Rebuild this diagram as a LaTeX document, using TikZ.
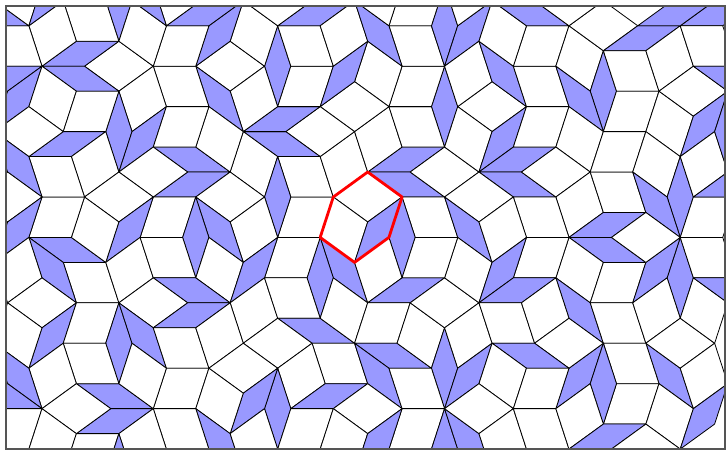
\documentclass[tikz,border=0pt]{standalone}
\usetikzlibrary{calc}
\definecolor{thinblue}{RGB}{153,153,255}
\definecolor{framegray}{RGB}{85,85,85}
\newcommand\Fx{333.3}
\newcommand\Fy{197}
\newcommand\Ledge{42.5}
\newcommand\tileAt[7]{%
  \pgfmathsetmacro\bx{\Fx+\Ledge*(#1+0.309017*(#2+#5)-0.809017*(#3+#4))}%
  \pgfmathsetmacro\by{\Fy+\Ledge*(0.951057*(#5-#2)+0.587785*(#4-#3))}%
  \pgfmathsetmacro\ax{\Ledge*cos(72*#6)}%
  \pgfmathsetmacro\ay{-\Ledge*sin(72*#6)}%
  \pgfmathsetmacro\cx{\Ledge*cos(72*#7)}%
  \pgfmathsetmacro\cy{-\Ledge*sin(72*#7)}%
  \pgfmathtruncatemacro\dd{abs(#6-#7)}%
  \ifnum\dd=2 \def\tcol{thinblue}\else\ifnum\dd=3 \def\tcol{thinblue}\else\def\tcol{white}\fi\fi
  \filldraw[tileline,fill=\tcol] (\bx,\by) -- ++(\ax,\ay) -- ++(\cx,\cy) -- ++(-\ax,-\ay) -- cycle;%
}
\newcommand\latpt[6]{%
  \pgfmathsetmacro\bx{\Fx+\Ledge*(#2+0.309017*(#3+#6)-0.809017*(#4+#5))}%
  \pgfmathsetmacro\by{\Fy+\Ledge*(0.951057*(#6-#3)+0.587785*(#5-#4))}%
  \coordinate (#1) at (\bx,\by);%
}
\begin{document}
\begin{tikzpicture}[x=1pt,y=-1pt,tileline/.style={draw=black,line width=0.8pt,line join=round}]
\useasboundingbox (0,0) rectangle (727,452);
\fill[white] (0,0) rectangle (727,452);
\begin{scope}
\clip (6,6) rectangle (725,449);
\tileAt{0}{0}{-1}{-1}{0}{2}{3}
\tileAt{0}{-1}{-1}{0}{0}{1}{2}
\tileAt{0}{-1}{-1}{-1}{0}{1}{3}
\tileAt{-1}{-1}{0}{0}{0}{0}{1}
\tileAt{-1}{0}{0}{0}{-1}{0}{4}
\tileAt{0}{0}{0}{-1}{-1}{3}{4}
\tileAt{0}{0}{0}{-2}{0}{0}{3}
\tileAt{0}{0}{0}{-2}{-1}{3}{4}
\tileAt{0}{0}{-1}{-1}{0}{0}{2}
\tileAt{0}{0}{-1}{-1}{0}{0}{4}
\tileAt{0}{-1}{-1}{-1}{0}{1}{4}
\tileAt{0}{-1}{-1}{0}{0}{2}{4}
\tileAt{0}{-2}{0}{0}{0}{1}{4}
\tileAt{-1}{-2}{0}{0}{0}{0}{1}
\tileAt{0}{-1}{-1}{-1}{0}{3}{4}
\tileAt{1}{0}{0}{-2}{-1}{1}{4}
\tileAt{0}{0}{0}{-2}{-1}{0}{4}
\tileAt{1}{0}{-1}{-2}{0}{2}{3}
\tileAt{1}{1}{-1}{-3}{0}{2}{3}
\tileAt{1}{0}{-1}{-2}{0}{1}{2}
\tileAt{1}{0}{-1}{-3}{0}{1}{3}
\tileAt{1}{0}{-1}{-3}{0}{0}{3}
\tileAt{1}{0}{-2}{-2}{0}{0}{2}
\tileAt{1}{0}{-2}{-2}{0}{2}{3}
\tileAt{1}{0}{-2}{-1}{0}{2}{4}
\tileAt{0}{0}{0}{-2}{-1}{0}{1}
\tileAt{0}{0}{0}{-2}{-1}{1}{2}
\tileAt{0}{0}{0}{-2}{-1}{2}{3}
\tileAt{0}{0}{0}{-1}{-1}{2}{3}
\tileAt{-1}{0}{0}{0}{-1}{0}{2}
\tileAt{-1}{0}{1}{-1}{-1}{0}{3}
\tileAt{-1}{0}{1}{-1}{-2}{1}{4}
\tileAt{-1}{0}{1}{-1}{-1}{0}{1}
\tileAt{0}{0}{1}{-2}{-1}{1}{3}
\tileAt{-1}{1}{1}{-1}{-2}{0}{4}
\tileAt{-1}{1}{1}{-2}{-2}{0}{3}
\tileAt{0}{1}{1}{-2}{-2}{3}{4}
\tileAt{0}{1}{0}{-2}{-2}{0}{4}
\tileAt{0}{1}{0}{-2}{-2}{2}{4}
\tileAt{1}{1}{0}{-2}{-2}{1}{4}
\tileAt{1}{1}{0}{-3}{-1}{1}{3}
\tileAt{1}{1}{0}{-3}{-1}{3}{4}
\tileAt{1}{1}{-1}{-3}{-1}{2}{4}
\tileAt{1}{1}{-1}{-3}{-1}{0}{4}
\tileAt{1}{0}{-1}{-3}{0}{0}{1}
\tileAt{1}{1}{-1}{-3}{-1}{0}{1}
\tileAt{1}{1}{-1}{-3}{-1}{1}{2}
\tileAt{1}{2}{-1}{-3}{-1}{0}{2}
\tileAt{-1}{0}{1}{-1}{-2}{2}{3}
\tileAt{-1}{0}{1}{-1}{-2}{1}{2}
\tileAt{-1}{0}{1}{-1}{-2}{3}{4}
\tileAt{-1}{0}{2}{-1}{-2}{1}{3}
\tileAt{-1}{0}{1}{0}{-2}{2}{4}
\tileAt{-2}{0}{2}{0}{-2}{0}{4}
\tileAt{-2}{0}{2}{0}{-2}{0}{1}
\tileAt{-1}{-1}{0}{0}{-1}{1}{2}
\tileAt{-2}{-1}{1}{0}{-1}{0}{2}
\tileAt{-1}{-1}{1}{0}{-1}{1}{2}
\tileAt{-2}{-1}{1}{0}{-1}{0}{3}
\tileAt{-1}{-1}{0}{0}{-1}{2}{3}
\tileAt{-1}{-1}{0}{0}{-1}{1}{4}
\tileAt{-1}{-1}{0}{0}{-1}{3}{4}
\tileAt{-1}{-1}{0}{1}{-1}{2}{4}
\tileAt{-2}{-2}{1}{1}{-1}{0}{1}
\tileAt{-1}{-2}{1}{1}{-1}{1}{4}
\tileAt{-1}{-2}{0}{1}{0}{1}{2}
\tileAt{-1}{-2}{0}{0}{0}{1}{3}
\tileAt{-1}{-2}{0}{0}{0}{3}{4}
\tileAt{-1}{-2}{0}{0}{0}{0}{4}
\tileAt{-1}{-2}{-1}{0}{1}{0}{2}
\tileAt{0}{-2}{-1}{0}{1}{1}{2}
\tileAt{-1}{-2}{-1}{0}{1}{2}{3}
\tileAt{-1}{-2}{-1}{0}{1}{0}{4}
\tileAt{-1}{-2}{-1}{0}{1}{3}{4}
\tileAt{-1}{-2}{-1}{0}{2}{0}{3}
\tileAt{0}{-1}{-1}{-1}{1}{0}{3}
\tileAt{0}{-2}{-1}{0}{1}{0}{1}
\tileAt{0}{-2}{-2}{0}{1}{0}{2}
\tileAt{0}{-2}{-2}{0}{1}{2}{4}
\tileAt{1}{-2}{-2}{0}{1}{1}{2}
\tileAt{1}{-1}{-2}{-1}{1}{2}{3}
\tileAt{1}{-2}{-2}{0}{1}{1}{4}
\tileAt{1}{-1}{-2}{-1}{1}{3}{4}
\tileAt{-2}{0}{2}{0}{-2}{2}{3}
\tileAt{-2}{0}{2}{0}{-2}{3}{4}
\tileAt{-2}{-1}{2}{1}{-2}{1}{4}
\tileAt{-2}{-1}{2}{0}{-1}{1}{3}
\tileAt{-2}{-1}{2}{0}{-1}{0}{1}
\tileAt{-2}{-1}{1}{0}{-1}{2}{3}
\tileAt{2}{1}{-2}{-3}{-1}{1}{2}
\tileAt{2}{2}{-2}{-4}{-1}{2}{3}
\tileAt{2}{2}{-1}{-4}{-1}{2}{3}
\tileAt{2}{1}{-2}{-3}{-1}{1}{4}
\tileAt{2}{2}{-2}{-4}{-1}{0}{3}
\tileAt{2}{2}{-2}{-3}{-1}{0}{4}
\tileAt{3}{2}{-2}{-4}{-1}{3}{4}
\tileAt{3}{2}{-2}{-5}{-1}{0}{3}
\tileAt{3}{2}{-2}{-4}{-1}{0}{4}
\tileAt{2}{2}{-2}{-5}{-1}{0}{3}
\tileAt{2}{1}{-2}{-3}{0}{0}{1}
\tileAt{2}{1}{-2}{-3}{-1}{2}{4}
\tileAt{2}{0}{-2}{-3}{0}{1}{2}
\tileAt{2}{0}{-2}{-3}{0}{2}{3}
\tileAt{2}{0}{-2}{-3}{0}{3}{4}
\tileAt{2}{0}{-2}{-3}{0}{0}{4}
\tileAt{2}{0}{-2}{-3}{0}{0}{1}
\tileAt{3}{1}{-3}{-3}{0}{1}{2}
\tileAt{3}{0}{-3}{-3}{0}{1}{2}
\tileAt{3}{2}{-3}{-4}{0}{2}{3}
\tileAt{3}{2}{-3}{-4}{0}{0}{2}
\tileAt{3}{1}{-3}{-4}{0}{1}{3}
\tileAt{3}{0}{-3}{-3}{0}{1}{4}
\tileAt{3}{1}{-3}{-4}{0}{3}{4}
\tileAt{3}{0}{-3}{-3}{0}{2}{4}
\tileAt{-3}{0}{3}{0}{-2}{0}{3}
\tileAt{-3}{0}{2}{1}{-2}{0}{2}
\tileAt{-2}{0}{3}{0}{-3}{1}{4}
\tileAt{-3}{0}{3}{0}{-3}{0}{4}
\tileAt{-2}{0}{2}{0}{-2}{1}{2}
\tileAt{-3}{0}{3}{0}{-3}{3}{4}
\tileAt{-4}{0}{3}{1}{-3}{0}{4}
\tileAt{-4}{0}{3}{1}{-2}{0}{3}
\tileAt{-3}{-1}{3}{1}{-2}{1}{3}
\tileAt{-3}{-1}{2}{1}{-2}{1}{2}
\tileAt{-3}{-1}{2}{1}{-2}{0}{1}
\tileAt{-3}{-1}{2}{1}{-2}{0}{3}
\tileAt{-3}{-1}{2}{1}{-2}{2}{3}
\tileAt{-2}{-1}{2}{1}{-2}{3}{4}
\tileAt{-2}{-1}{1}{1}{-1}{2}{3}
\tileAt{-2}{-2}{1}{1}{-1}{1}{3}
\tileAt{-3}{-2}{1}{2}{-1}{0}{2}
\tileAt{-2}{-2}{1}{2}{-1}{1}{2}
\tileAt{-3}{-2}{1}{2}{-1}{0}{4}
\tileAt{-2}{-2}{1}{1}{-1}{3}{4}
\tileAt{-2}{-2}{1}{1}{-1}{0}{4}
\tileAt{-2}{-2}{0}{1}{0}{0}{2}
\tileAt{-2}{-2}{0}{1}{0}{2}{3}
\tileAt{-3}{-2}{1}{2}{-1}{2}{4}
\tileAt{-3}{-2}{2}{2}{-1}{0}{1}
\tileAt{-3}{-1}{2}{2}{-2}{0}{4}
\tileAt{-3}{-1}{2}{2}{-2}{2}{4}
\tileAt{-3}{-1}{2}{2}{-1}{2}{3}
\tileAt{-3}{-2}{2}{2}{-1}{1}{3}
\tileAt{-3}{-2}{2}{2}{-1}{3}{4}
\tileAt{-3}{-2}{1}{2}{0}{2}{3}
\tileAt{-3}{-3}{1}{2}{0}{1}{3}
\tileAt{-3}{-3}{1}{2}{0}{0}{1}
\tileAt{-2}{-3}{1}{2}{0}{1}{4}
\tileAt{-2}{-2}{0}{2}{0}{2}{4}
\tileAt{-2}{-2}{0}{1}{0}{0}{3}
\tileAt{-2}{-2}{0}{2}{0}{0}{4}
\tileAt{-1}{-2}{0}{1}{0}{3}{4}
\tileAt{-1}{-3}{-1}{1}{1}{1}{4}
\tileAt{-1}{-2}{-1}{1}{1}{2}{3}
\tileAt{-1}{-3}{-1}{1}{1}{1}{3}
\tileAt{-2}{-3}{0}{2}{1}{0}{1}
\tileAt{-1}{-3}{-1}{2}{1}{1}{2}
\tileAt{-1}{-3}{-1}{2}{1}{2}{4}
\tileAt{-2}{-3}{0}{2}{1}{0}{4}
\tileAt{-1}{-3}{-1}{1}{1}{3}{4}
\tileAt{-1}{-3}{-1}{1}{2}{0}{1}
\tileAt{0}{-2}{-2}{0}{2}{2}{3}
\tileAt{0}{-3}{-2}{1}{2}{1}{2}
\tileAt{2}{0}{-3}{-2}{1}{0}{2}
\tileAt{2}{0}{-2}{-3}{1}{0}{3}
\tileAt{2}{-1}{-3}{-2}{1}{1}{2}
\tileAt{1}{0}{-2}{-2}{0}{0}{4}
\tileAt{1}{-1}{-2}{-2}{1}{0}{1}
\tileAt{1}{0}{-2}{-2}{0}{3}{4}
\tileAt{1}{-1}{-2}{-1}{1}{1}{2}
\tileAt{0}{-1}{-1}{-1}{1}{0}{1}
\tileAt{1}{-1}{-2}{-2}{1}{1}{3}
\tileAt{1}{-1}{-2}{-2}{1}{0}{3}
\tileAt{1}{-1}{-2}{-1}{1}{0}{4}
\tileAt{2}{-1}{-3}{-2}{1}{2}{4}
\tileAt{2}{-1}{-2}{-2}{1}{3}{4}
\tileAt{2}{-1}{-3}{-2}{1}{0}{1}
\tileAt{2}{-1}{-3}{-2}{1}{0}{4}
\tileAt{3}{-1}{-3}{-3}{1}{1}{4}
\tileAt{3}{-1}{-3}{-3}{1}{1}{3}
\tileAt{3}{0}{-3}{-3}{1}{2}{3}
\tileAt{3}{0}{-3}{-3}{1}{0}{1}
\tileAt{3}{0}{-3}{-3}{1}{0}{4}
\tileAt{3}{1}{-3}{-4}{1}{0}{3}
\tileAt{3}{-1}{-3}{-3}{1}{3}{4}
\tileAt{3}{-1}{-4}{-2}{2}{2}{4}
\tileAt{3}{-1}{-4}{-3}{2}{2}{3}
\tileAt{2}{-1}{-3}{-2}{2}{0}{4}
\tileAt{2}{-2}{-3}{-2}{3}{0}{1}
\tileAt{2}{-2}{-3}{-2}{2}{1}{3}
\tileAt{2}{-2}{-3}{-2}{2}{1}{4}
\tileAt{2}{-1}{-3}{-2}{2}{2}{3}
\tileAt{1}{-1}{-3}{-1}{2}{0}{2}
\tileAt{1}{-2}{-2}{-1}{2}{1}{3}
\tileAt{1}{-2}{-3}{-1}{2}{1}{2}
\tileAt{0}{-2}{-2}{0}{1}{0}{4}
\tileAt{0}{-3}{-2}{0}{2}{0}{1}
\tileAt{1}{-3}{-2}{0}{2}{1}{4}
\tileAt{1}{-2}{-3}{0}{2}{2}{4}
\tileAt{1}{-2}{-3}{-1}{2}{2}{3}
\tileAt{0}{-3}{-2}{0}{2}{1}{3}
\tileAt{1}{-2}{-3}{-1}{2}{0}{1}
\tileAt{1}{-2}{-3}{-1}{2}{3}{4}
\tileAt{1}{-2}{-3}{-1}{2}{0}{4}
\tileAt{2}{-2}{-3}{-2}{2}{3}{4}
\tileAt{2}{-2}{-3}{-2}{3}{0}{3}
\tileAt{3}{-2}{-4}{-2}{3}{1}{2}
\tileAt{3}{-1}{-4}{-3}{2}{3}{4}
\tileAt{3}{-2}{-4}{-3}{3}{1}{3}
\tileAt{3}{-1}{-4}{-3}{2}{1}{2}
\tileAt{3}{0}{-4}{-3}{2}{0}{2}
\tileAt{-3}{-3}{0}{2}{1}{0}{2}
\tileAt{-3}{-3}{0}{2}{1}{0}{3}
\tileAt{-3}{-3}{1}{2}{0}{0}{4}
\tileAt{-2}{-3}{0}{2}{1}{1}{2}
\tileAt{-2}{-3}{0}{2}{1}{3}{4}
\tileAt{-3}{-3}{1}{2}{0}{3}{4}
\tileAt{-3}{-3}{0}{2}{1}{2}{3}
\tileAt{-3}{-3}{1}{3}{0}{1}{2}
\tileAt{-3}{-3}{1}{3}{0}{2}{4}
\tileAt{-4}{-3}{1}{3}{1}{0}{2}
\tileAt{-4}{-4}{1}{3}{1}{0}{1}
\tileAt{-3}{-4}{0}{3}{1}{1}{2}
\tileAt{-3}{-4}{0}{3}{1}{0}{1}
\tileAt{-2}{-4}{0}{3}{1}{1}{4}
\tileAt{3}{1}{-3}{-4}{0}{1}{4}
\tileAt{-4}{0}{3}{1}{-3}{0}{2}
\tileAt{-3}{0}{3}{1}{-3}{1}{2}
\tileAt{-3}{0}{3}{0}{-3}{1}{3}
\tileAt{-2}{1}{2}{-1}{-2}{0}{3}
\tileAt{-2}{1}{2}{-1}{-3}{3}{4}
\tileAt{-2}{1}{2}{0}{-3}{2}{4}
\tileAt{-1}{1}{1}{-2}{-2}{2}{3}
\tileAt{0}{1}{0}{-2}{-2}{0}{1}
\tileAt{0}{1}{0}{-2}{-2}{1}{2}
\tileAt{1}{2}{0}{-3}{-2}{3}{4}
\tileAt{3}{-2}{-4}{-2}{3}{2}{3}
\end{scope}
\latpt{hA}{0}{0}{0}{-1}{0}
\latpt{hB}{0}{0}{-1}{-1}{0}
\latpt{hC}{0}{-1}{-1}{-1}{0}
\latpt{hD}{0}{-1}{-1}{0}{0}
\latpt{hE}{0}{-1}{0}{0}{0}
\latpt{hF}{0}{0}{0}{0}{0}
\draw[red,line width=2.8pt,line join=round] (hA) -- (hB) -- (hC) -- (hD) -- (hE) -- (hF) -- cycle;
\draw[framegray,line width=2.6pt] (6,6) rectangle (725,449);
\end{tikzpicture}
\end{document}
